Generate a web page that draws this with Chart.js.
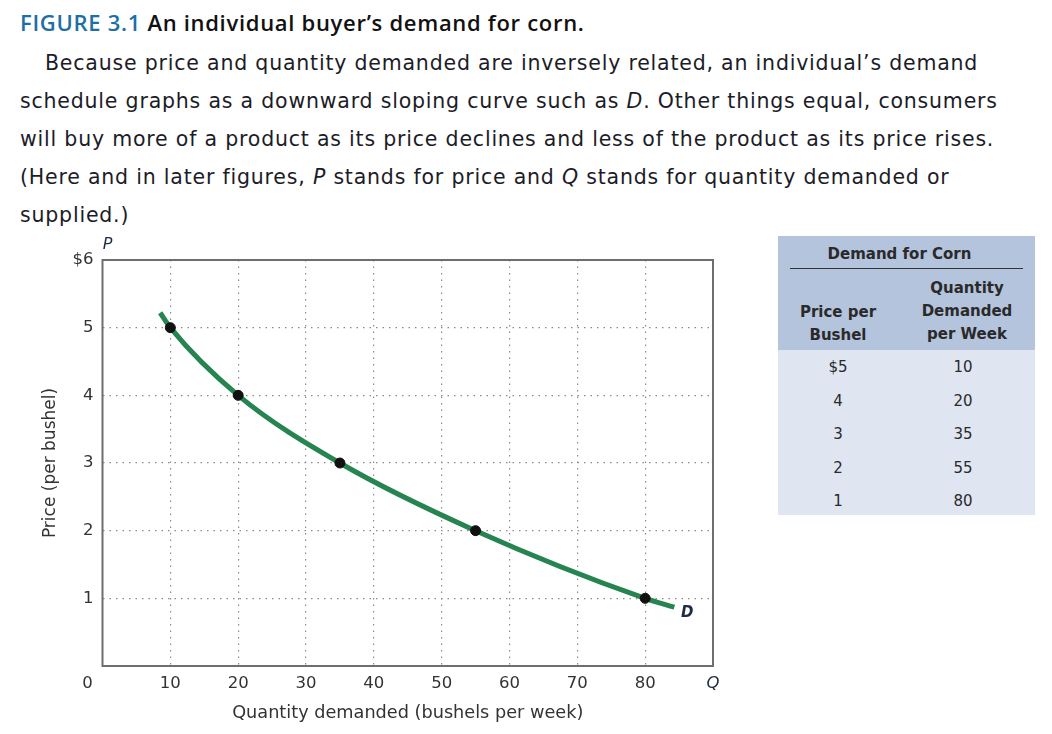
<!DOCTYPE html>
<html>
<head>
<meta charset="utf-8">
<script src="https://cdn.jsdelivr.net/npm/chart.js@4"></script>
<style>
  body { margin: 0; width: 1052px; height: 734px; background: #fff; position: relative; overflow: hidden; font-family: "DejaVu Sans", sans-serif; }
  #title { position: absolute; left: 20px; top: 7px; font-family: "Open Sans", sans-serif; font-weight: 600; font-size: 22px; letter-spacing: 0.7px; color: #111; white-space: nowrap; }
  #title span { color: #1d6fa5; }
  #caption { position: absolute; left: 20px; top: 44px; width: 1030px; font-size: 20.5px; letter-spacing: 0.8px; line-height: 38px; color: #1c1c28; white-space: nowrap; }
  #caption p { margin: 0; text-indent: 25px; }
  #wrap { position: absolute; left: 0; top: 236px; width: 730px; height: 494px; }
  #tbl { position: absolute; left: 778px; top: 236px; width: 257px; font-size: 15px; color: #2a2a2a; }
  #tbl .head { background: #b4c4dc; height: 114px; position: relative; font-weight: 700; }
  #tbl .body { background: #dfe6f2; height: 165px; position: relative; }
</style>
</head>
<body>
<div id="title"><span>FIGURE 3.1</span> An individual buyer’s demand for corn.</div>
<div id="caption"><p>Because price and quantity demanded are inversely related, an individual’s demand<br>schedule graphs as a downward sloping curve such as <i>D</i>. Other things equal, consumers<br>will buy more of a product as its price declines and less of the product as its price rises.<br>(Here and in later figures, <i>P</i> stands for price and <i>Q</i> stands for quantity demanded or<br>supplied.)</p></div>
<div id="wrap"><canvas id="c"></canvas></div>
<div id="tbl"></div>
<script>
// demand schedule
const prices = [5, 4, 3, 2, 1]
const quantities = [10, 20, 35, 55, 80]
// where the drawn curve starts and stops
const curveStart = { x: 8.5, y: 5.22 }
const curveEnd = { x: 84.3, y: 0.87 }

const xTicks = [0, 10, 20, 30, 40, 50, 60, 70, 80, 90]
const yTicks = [0, 1, 2, 3, 4, 5, 6]

const FONT = '"DejaVu Sans"'

// table
const tbl = document.getElementById('tbl')
let html = '<div class="head">' +
  '<div style="position:absolute;left:0;right:14px;top:9px;text-align:center">Demand for Corn</div>' +
  '<div style="position:absolute;left:12px;right:12px;top:32px;border-top:1.5px solid #333"></div>' +
  '<div style="position:absolute;left:0;width:120px;top:65px;text-align:center;line-height:23px">Price per<br>Bushel</div>' +
  '<div style="position:absolute;left:129px;width:120px;top:41px;text-align:center;line-height:23px">Quantity<br>Demanded<br>per Week</div>' +
  '</div><div class="body">'
prices.forEach((p, i) => {
  const top = 6 + i * 33.5
  html += `<div style="position:absolute;left:0;width:120px;top:${top}px;text-align:center;line-height:22px">${i === 0 ? '$' + p : p}</div>`
  html += `<div style="position:absolute;left:125px;width:120px;top:${top}px;text-align:center;line-height:22px">${quantities[i]}</div>`
})
html += '</div>'
tbl.innerHTML = html

const curve = [curveStart].concat(quantities.map((q, i) => ({ x: q, y: prices[i] })), [curveEnd])
const points = quantities.map((q, i) => ({ x: q, y: prices[i] }))

const extras = {
  id: 'extras',
  afterDraw(chart) {
    const { ctx, chartArea: a, scales: { x, y } } = chart
    ctx.save()
    ctx.strokeStyle = '#6e6e6e'
    ctx.lineWidth = 2
    ctx.strokeRect(a.left, a.top, a.right - a.left, a.bottom - a.top)
    ctx.fillStyle = '#333'
    ctx.font = '16.5px ' + FONT
    ctx.textAlign = 'center'
    ctx.textBaseline = 'middle'
    ctx.fillText('0', x.getPixelForValue(0) - 15, a.bottom + 18)
    ctx.fillStyle = '#1f2a44'
    ctx.font = 'oblique 16px ' + FONT
    ctx.fillText('P', x.getPixelForValue(0) + 5, a.top - 15)
    ctx.font = 'oblique bold 15px ' + FONT
    ctx.fillText('D', x.getPixelForValue(curveEnd.x) + 13, y.getPixelForValue(curveEnd.y) + 6)
    ctx.restore()
  }
}

const inner = v => v > 0 && v < 90
new Chart(document.getElementById('c'), {
  type: 'scatter',
  data: {
    datasets: [
      {
        data: curve,
        showLine: true,
        borderColor: '#268451',
        borderWidth: 5,
        pointRadius: 0,
        tension: 0.4,
        cubicInterpolationMode: 'monotone',
        order: 2
      },
      {
        data: points,
        pointRadius: 5,
        backgroundColor: '#111',
        borderColor: '#111',
        order: 1
      }
    ]
  },
  options: {
    animation: false,
    maintainAspectRatio: false,
    layout: { padding: { top: 24, right: 17, left: 0, bottom: 0 } },
    plugins: { legend: { display: false }, tooltip: { enabled: false } },
    scales: {
      x: {
        min: 0, max: 90,
        afterFit: s => { s.height = 64 },
        afterBuildTicks: s => { s.ticks = xTicks.map(v => ({ value: v })) },
        ticks: {
          padding: 8,
          maxRotation: 0,
          autoSkip: false,
          color: c => c.tick && c.tick.value === 90 ? '#1f2a44' : '#333',
          font: c => c.tick && c.tick.value === 90 ? { family: FONT, size: 16.5, style: 'oblique' } : { family: FONT, size: 16.5 },
          callback: v => v === 0 ? '' : v === 90 ? 'Q' : v
        },
        grid: {
          drawTicks: false,
          color: c => inner(c.tick.value) ? '#8a8a8a' : 'rgba(0,0,0,0)',
          lineWidth: 1.2
        },
        border: { display: false, dash: [1.5, 5] },
        title: { display: true, text: 'Quantity demanded (bushels per week)', color: '#333', font: { family: FONT, size: 17.7 }, padding: { bottom: 6 } }
      },
      y: {
        min: 0, max: 6,
        afterFit: s => { s.width = 102.5 },
        afterBuildTicks: s => { s.ticks = yTicks.map(v => ({ value: v })) },
        ticks: {
          padding: 9,
          color: '#333',
          font: { family: FONT, size: 16.5 },
          callback: v => v === 0 ? '' : v === 6 ? '$6' : v
        },
        grid: {
          drawTicks: false,
          color: c => c.tick.value > 0 && c.tick.value < 6 ? '#8a8a8a' : 'rgba(0,0,0,0)',
          lineWidth: 1.2
        },
        border: { display: false, dash: [1.5, 5] },
        title: { display: true, text: 'Price (per bushel)', color: '#333', font: { family: FONT, size: 17 }, padding: { top: 40 } }
      }
    }
  },
  plugins: [extras]
})
</script>
</body>
</html>
